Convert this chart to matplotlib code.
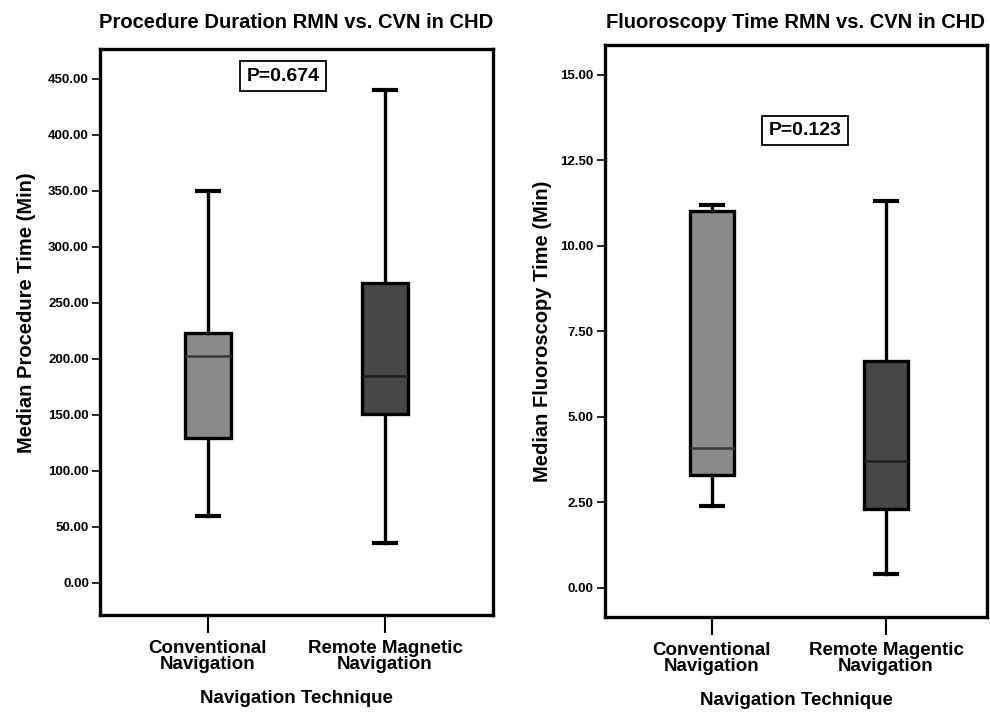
import matplotlib
matplotlib.use("Agg")
import matplotlib.pyplot as plt

plt.rcParams['font.family'] = ['Liberation Sans', 'DejaVu Sans']
plt.rcParams['font.weight'] = 'bold'

# data
groups = ["Conventional\nNavigation", "Remote Magnetic\nNavigation"]
groups_right = ["Conventional\nNavigation", "Remote Magentic\nNavigation"]

# procedure time (min): whislo, q1, med, q3, whishi
proc_low = [60, 36]
proc_q1 = [129, 151]
proc_med = [203, 185]
proc_q3 = [223, 268]
proc_high = [350, 440]

# fluoroscopy time (min)
fluo_low = [2.40, 0.41]
fluo_q1 = [3.29, 2.30]
fluo_med = [4.10, 3.70]
fluo_q3 = [11.02, 6.62]
fluo_high = [11.20, 11.30]

box_colors = ["#8a8a8a", "#474747"]
med_colors = ["#3a3a3a", "#1e1e1e"]


def make_stats(lo, q1, med, q3, hi, labels):
    out = []
    for i in range(len(lo)):
        out.append({"whislo": lo[i], "q1": q1[i], "med": med[i], "q3": q3[i],
                    "whishi": hi[i], "fliers": [], "label": labels[i]})
    return out


def draw_panel(ax, stats, title, ylabel, ticks, fmt, ylim, xlim, ptext, pxy,
               title_pad, ylab_xy):
    bp = ax.bxp(stats, positions=[1, 2], widths=0.255, patch_artist=True,
                showfliers=False,
                boxprops=dict(linewidth=2.4, edgecolor="black"),
                whiskerprops=dict(linewidth=2.4, color="black"),
                capprops=dict(linewidth=3.0, color="black"),
                medianprops=dict(linewidth=1.8))
    for i, b in enumerate(bp["boxes"]):
        b.set_facecolor(box_colors[i])
    for i, m in enumerate(bp["medians"]):
        m.set_color(med_colors[i])
    for c in bp["caps"]:
        x = c.get_xdata()
        mid = (x[0] + x[1]) / 2
        c.set_xdata([mid - 0.062, mid + 0.062])
    ax.set_xlim(*xlim)
    ax.set_ylim(*ylim)
    ax.set_yticks(ticks)
    ax.set_yticklabels([fmt % t for t in ticks], fontsize=9.5, fontweight='bold')
    ax.set_xticklabels([s["label"] for s in stats], fontsize=13.5, fontweight='bold',
                       linespacing=0.95)
    ax.tick_params(axis='y', length=6, width=1.2, pad=2)
    ax.tick_params(axis='x', length=13, width=1.5, pad=5)
    for sp in ax.spines.values():
        sp.set_linewidth(2.4)
    ax.set_title(title, fontsize=14.5, fontweight='bold', pad=title_pad)
    ax.set_ylabel(ylabel, fontsize=14.5, fontweight='bold')
    ax.yaxis.set_label_coords(*ylab_xy)
    ax.set_xlabel("Navigation Technique", fontsize=13.5, fontweight='bold', labelpad=12)
    ax.text(pxy[0], pxy[1], ptext, transform=ax.transAxes, ha='center', va='center',
            fontsize=14, fontweight='bold',
            bbox=dict(boxstyle='square,pad=0.32', facecolor='white',
                      edgecolor='black', linewidth=1.3))


fig = plt.figure(figsize=(9.9, 7.14), dpi=100)
ax1 = fig.add_axes([0.101, 0.1387, 0.397, 0.7927])
ax2 = fig.add_axes([0.611, 0.1359, 0.386, 0.801])

draw_panel(ax1, make_stats(proc_low, proc_q1, proc_med, proc_q3, proc_high, groups),
           "Procedure Duration RMN vs. CVN in CHD", "Median Procedure Time (Min)",
           [0, 50, 100, 150, 200, 250, 300, 350, 400, 450], "%.2f",
           (-28.6, 476.8), (0.39, 2.61), "P=0.674", (0.466, 0.952), 15, (-0.162, 0.534))

draw_panel(ax2, make_stats(fluo_low, fluo_q1, fluo_med, fluo_q3, fluo_high, groups_right),
           "Fluoroscopy Time RMN vs. CVN in CHD", "Median Fluoroscopy Time (Min)",
           [0, 2.5, 5, 7.5, 10, 12.5, 15], "%.2f",
           (-0.85, 15.87), (0.385, 2.58), "P=0.123", (0.524, 0.851), 12, (-0.139, 0.5))

fig.savefig("out.png", dpi=100)
